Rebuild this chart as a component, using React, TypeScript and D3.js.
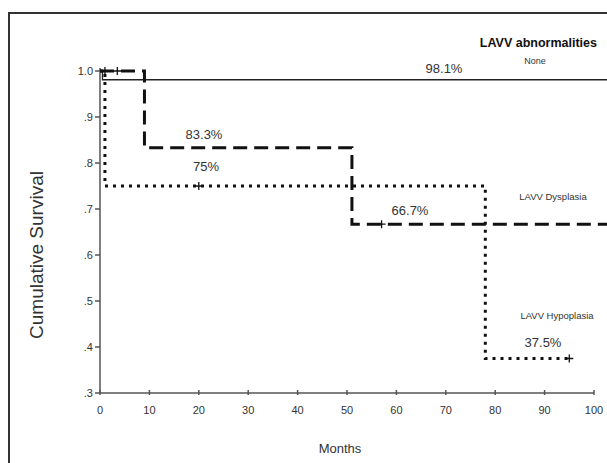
import * as d3 from 'd3';

// ticks
const xTicks = [0, 10, 20, 30, 40, 50, 60, 70, 80, 90, 100];
const yTicks = [1.0, 0.9, 0.8, 0.7, 0.6, 0.5, 0.4, 0.3];
const yTickLabels = ['1.0', '.9', '.8', '.7', '.6', '.5', '.4', '.3'];

// Kaplan-Meier steps (month, survival after that month)
const noneTimes = [0, 0.5, 104];
const noneSurv = [1.0, 0.981, 0.981];
const dysTimes = [0, 9, 51, 104];
const dysSurv = [1.0, 0.833, 0.667, 0.667];
const hypTimes = [0, 1, 78, 95];
const hypSurv = [1.0, 0.75, 0.375, 0.375];

// censored cases
const noneCensor = [1];
const dysCensorT = [3.5, 57];
const dysCensorS = [1.0, 0.667];
const hypCensorT = [20, 95];
const hypCensorS = [0.75, 0.375];

const W = 607;
const H = 463;
const font = 'Arial, "Liberation Sans", sans-serif';

type Pt = [number, number];

export default function App() {
  const x = d3.scaleLinear().domain([0, 100]).range([100, 594]);
  const y = d3.scaleLinear().domain([0.3, 1.0]).range([393, 71]);

  const line = d3
    .line<Pt>()
    .x(d => x(d[0]))
    .y(d => y(d[1]))
    .curve(d3.curveStepAfter);

  const zip = (t: number[], s: number[]): Pt[] => t.map((v, i) => [v, s[i]]);

  const plus = (px: number, py: number, k: string) => (
    <path
      key={k}
      d={`M${px - 4},${py}H${px + 4}M${px},${py - 4}V${py + 4}`}
      stroke="#111"
      strokeWidth={1.3}
    />
  );

  return (
    <svg
      width={W}
      height={H}
      style={{ position: 'absolute', left: 0, top: 0, background: '#fff' }}
      fontFamily={font}
    >
      <rect x={0} y={0} width={W} height={H} fill="#fff" />
      {/* frame */}
      <rect x={9} y={13} width={700} height={600} fill="none" stroke="#333" strokeWidth={2} />

      {/* axes */}
      <g stroke="#555" strokeWidth={1.5} fill="none">
        <line x1={x(0)} x2={x(0)} y1={y(1.0) - 3} y2={y(0.3)} />
        <line x1={x(0)} x2={x(100)} y1={y(0.3)} y2={y(0.3)} />
        {yTicks.map(t => (
          <line key={'yt' + t} x1={x(0) - 5} x2={x(0)} y1={y(t)} y2={y(t)} />
        ))}
        {xTicks.map(t => (
          <line key={'xt' + t} x1={x(t)} x2={x(t)} y1={y(0.3) - 3} y2={y(0.3) + 2} />
        ))}
      </g>
      <g fontSize={11} fill="#333">
        {yTicks.map((t, i) => (
          <text key={'yl' + t} x={x(0) - 7} y={y(t) + 4} textAnchor="end">
            {yTickLabels[i]}
          </text>
        ))}
        {xTicks.map(t => (
          <text key={'xl' + t} x={x(t)} y={y(0.3) + 21} textAnchor="middle">
            {t}
          </text>
        ))}
      </g>

      {/* curves */}
      <path d={line(zip(noneTimes, noneSurv))!} fill="none" stroke="#222" strokeWidth={1.3} />
      <path
        d={line(zip(hypTimes, hypSurv))!}
        fill="none"
        stroke="#111"
        strokeWidth={3}
        strokeDasharray="3 5"
      />
      <path
        d={line(zip(dysTimes, dysSurv))!}
        fill="none"
        stroke="#111"
        strokeWidth={3}
        strokeDasharray="14 7"
      />

      {noneCensor.map((t, i) => plus(x(t), y(1.0), 'nc' + i))}
      {dysCensorT.map((t, i) => plus(x(t), y(dysCensorS[i]), 'dc' + i))}
      {hypCensorT.map((t, i) => plus(x(t), y(hypCensorS[i]), 'hc' + i))}

      {/* annotations */}
      <g fill="#333">
        <text x={597} y={47} fontSize={12.5} fontWeight="bold" textAnchor="end" fill="#111">
          LAVV abnormalities
        </text>
        <text x={535} y={64} fontSize={9} textAnchor="middle">None</text>
        <text x={444} y={73} fontSize={13} textAnchor="middle">98.1%</text>
        <text x={204} y={139} fontSize={13} textAnchor="middle">83.3%</text>
        <text x={206} y={171} fontSize={13} textAnchor="middle">75%</text>
        <text x={410} y={215} fontSize={13} textAnchor="middle">66.7%</text>
        <text x={553} y={200} fontSize={9.5} textAnchor="middle">LAVV  Dysplasia</text>
        <text x={557} y={319} fontSize={9.5} textAnchor="middle">LAVV  Hypoplasia</text>
        <text x={543} y={347} fontSize={13} textAnchor="middle">37.5%</text>
        <text x={340} y={453} fontSize={13} textAnchor="middle">Months</text>
        <text
          transform={`translate(43,255) rotate(-90)`}
          fontSize={19}
          textAnchor="middle"
        >
          Cumulative Survival
        </text>
      </g>
    </svg>
  );
}
